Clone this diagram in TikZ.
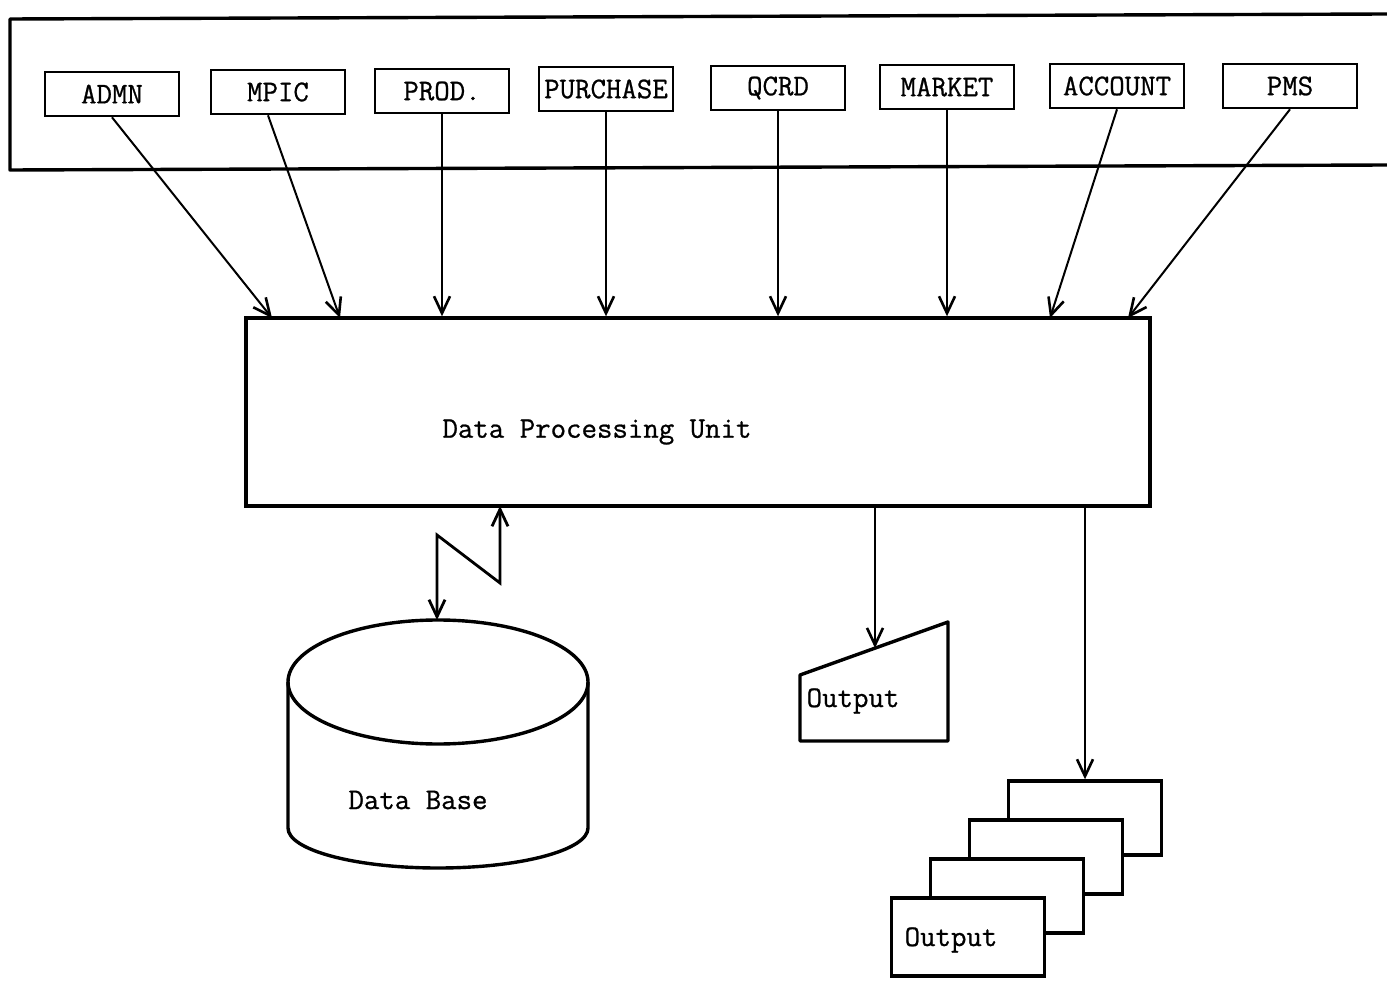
\documentclass[tikz,border=0pt]{standalone}
\usepackage{fontspec}
\newfontfamily\twfont{Latin Modern Mono}[FakeBold=0.8]
\usetikzlibrary{arrows.meta,calc}
\begin{document}
\begin{tikzpicture}[x=1pt,y=-1pt,
  every node/.style={font=\fontsize{30}{34}\selectfont\twfont},
  dept/.style={draw,line width=2.6pt,minimum width=134pt,minimum height=44pt,inner sep=0pt},
  unitbox/.style={draw,line width=3.4pt,minimum width=904pt,minimum height=188pt,inner sep=0pt},
  sheet/.style={draw,fill=white,line width=3.4pt,minimum width=153pt,minimum height=74pt,inner sep=0pt},
  link/.style={line width=2pt,-{Straight Barb[length=17pt,width=16pt,line width=2.6pt]}},
  duplex/.style={line width=2.8pt,{Straight Barb[length=17pt,width=16pt,line width=2.8pt]}-{Straight Barb[length=17pt,width=16pt,line width=2.8pt]}},
  heavy/.style={line width=3.4pt,line join=round}]
\useasboundingbox (0,0) rectangle (1387,981);

% department panel
\draw[heavy] (1387,14) -- (10,19) -- (10,170) -- (1387,165);
\node[dept] (admn) at (112,94) {ADMN};
\node[dept] (mpic) at (278,92) {MPIC};
\node[dept] (prod) at (442,91) {PROD.};
\node[dept] (purch) at (606,89) {PURCHASE};
\node[dept] (qcrd) at (778,88) {QCRD};
\node[dept] (market) at (947,87) {MARKET};
\node[dept] (account) at (1117,86) {ACCOUNT};
\node[dept] (pms) at (1290,86) {PMS};

% central processing unit
\node[unitbox] (dpu) at (698,412) {};
\node (dpulabel) at (597,432) {Data Processing Unit};

\coordinate (inA) at (272,318);
\coordinate (inB) at (340,318);
\coordinate (inG) at (1050,318);
\coordinate (inH) at (1128,318);

\draw[link] (admn.south) -- (inA);
\draw[link] ($(mpic.south)+(-10,0)$) -- (inB);
\draw[link] (prod.south) -- (prod.south |- dpu.north);
\draw[link] (purch.south) -- (purch.south |- dpu.north);
\draw[link] (qcrd.south) -- (qcrd.south |- dpu.north);
\draw[link] (market.south) -- (market.south |- dpu.north);
\draw[link] (account.south) -- (inG);
\draw[link] (pms.south) -- (inH);

% data base cylinder
\draw[heavy] (288,682) -- (288,828) arc[start angle=180,end angle=0,x radius=150,y radius=40] -- (588,682);
\draw[heavy] (438,682) ellipse[x radius=150,y radius=62];
\node (db) at (418,800) {Data Base};
\coordinate (dbtop) at (437,620);
\coordinate (zA) at (437,535);
\coordinate (zB) at (500,583);
\coordinate (dpuport) at (500,506);
\draw[duplex] (dbtop) -- (zA) -- (zB) -- (dpuport);

% single output
\draw[heavy] (800,675) -- (948,622) -- (948,741) -- (800,741) -- cycle;
\node (out1) at (853,701) {Output};
\coordinate (out1top) at (875,648);
\draw[link] (out1top |- dpu.south) -- (out1top);

% stacked output sheets
\node[sheet] (s1) at (1085,818) {};
\node[sheet] (s2) at (1046,857) {};
\node[sheet] (s3) at (1007,896) {};
\node[sheet,minimum height=78pt] (s4) at (968,937) {};
\node (out2) at (951,940) {Output};
\draw[link] (s1.north |- dpu.south) -- (s1.north);
\end{tikzpicture}
\end{document}
